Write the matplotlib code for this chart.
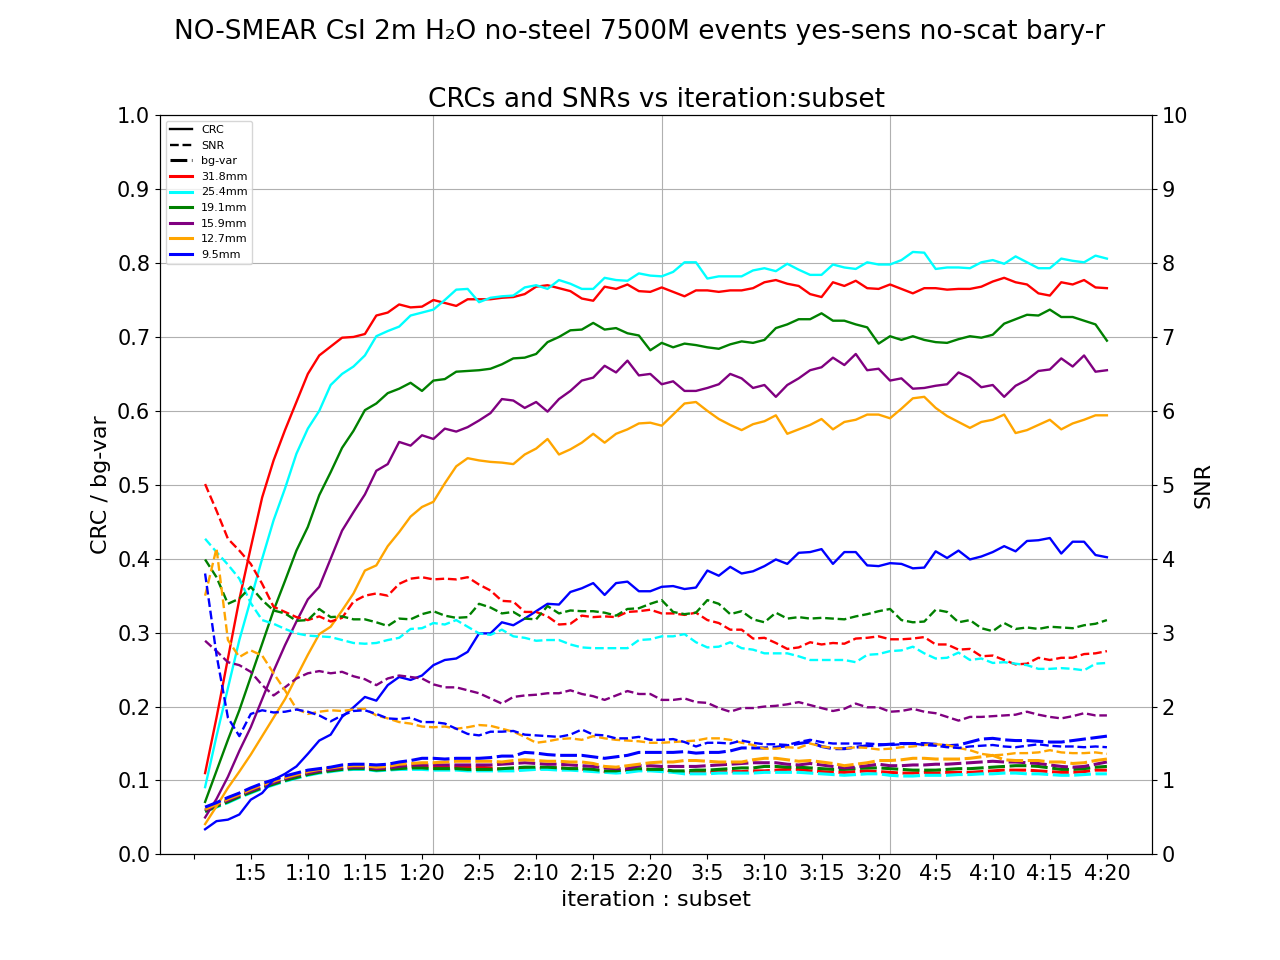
import matplotlib
matplotlib.use('Agg')
import matplotlib.pyplot as plt
from matplotlib.lines import Line2D

#---------------------------------------------------------------------
# data: 4 iterations x 20 subsets = 80 points
#---------------------------------------------------------------------
sizes = ['31.8mm', '25.4mm', '19.1mm', '15.9mm', '12.7mm', '9.5mm']
colours = ['red', 'cyan', 'green', 'purple', 'orange', 'blue']

tick_pos = [0, 5, 10, 15, 20, 25, 30, 35, 40, 45, 50, 55, 60, 65, 70, 75, 80]
tick_labels = ['', '1:5', '1:10', '1:15', '1:20', '2:5', '2:10', '2:15', '2:20',
               '3:5', '3:10', '3:15', '3:20', '4:5', '4:10', '4:15', '4:20']
iter_lines = [21, 41, 61]

crc_318 = [0.110, 0.185, 0.265, 0.345, 0.415, 0.483, 0.533, 0.574, 0.612, 0.650,
           0.675, 0.687, 0.699, 0.700, 0.704, 0.729, 0.733, 0.744, 0.740, 0.741,
           0.750, 0.746, 0.742, 0.751, 0.751, 0.751, 0.753, 0.754, 0.758, 0.768,
           0.770, 0.766, 0.762, 0.752, 0.749, 0.768, 0.765, 0.771, 0.762, 0.761,
           0.767, 0.761, 0.755, 0.763, 0.763, 0.761, 0.763, 0.763, 0.766, 0.774,
           0.777, 0.772, 0.769, 0.758, 0.754, 0.774, 0.769, 0.776, 0.766, 0.765,
           0.771, 0.765, 0.759, 0.766, 0.766, 0.764, 0.765, 0.765, 0.768, 0.775,
           0.780, 0.774, 0.771, 0.759, 0.756, 0.774, 0.771, 0.777, 0.767, 0.766]
crc_254 = [0.091, 0.160, 0.225, 0.290, 0.345, 0.400, 0.452, 0.495, 0.542, 0.576,
           0.600, 0.635, 0.650, 0.660, 0.675, 0.701, 0.708, 0.714, 0.729, 0.733,
           0.737, 0.750, 0.764, 0.765, 0.747, 0.753, 0.755, 0.756, 0.767, 0.770,
           0.765, 0.777, 0.772, 0.765, 0.765, 0.780, 0.777, 0.776, 0.786, 0.783,
           0.782, 0.788, 0.801, 0.801, 0.779, 0.782, 0.782, 0.782, 0.790, 0.793,
           0.789, 0.799, 0.791, 0.784, 0.784, 0.798, 0.794, 0.792, 0.801, 0.798,
           0.798, 0.804, 0.815, 0.814, 0.792, 0.794, 0.794, 0.793, 0.801, 0.804,
           0.799, 0.809, 0.801, 0.793, 0.793, 0.806, 0.803, 0.801, 0.810, 0.806]
crc_191 = [0.071, 0.113, 0.155, 0.195, 0.240, 0.285, 0.330, 0.370, 0.411, 0.443,
           0.486, 0.517, 0.550, 0.573, 0.601, 0.610, 0.624, 0.630, 0.638, 0.627,
           0.641, 0.643, 0.653, 0.654, 0.655, 0.657, 0.663, 0.671, 0.672, 0.677,
           0.693, 0.700, 0.709, 0.710, 0.719, 0.710, 0.712, 0.705, 0.702, 0.682,
           0.692, 0.686, 0.691, 0.689, 0.686, 0.684, 0.690, 0.694, 0.692, 0.696,
           0.712, 0.717, 0.724, 0.724, 0.732, 0.722, 0.722, 0.717, 0.713, 0.691,
           0.701, 0.696, 0.701, 0.696, 0.693, 0.692, 0.697, 0.701, 0.699, 0.703,
           0.718, 0.724, 0.730, 0.729, 0.737, 0.727, 0.727, 0.722, 0.717, 0.695]
crc_159 = [0.050, 0.075, 0.105, 0.140, 0.172, 0.210, 0.248, 0.283, 0.315, 0.345,
           0.362, 0.400, 0.438, 0.463, 0.487, 0.519, 0.528, 0.558, 0.553, 0.567,
           0.562, 0.576, 0.572, 0.578, 0.587, 0.597, 0.616, 0.614, 0.604, 0.612,
           0.599, 0.616, 0.627, 0.641, 0.645, 0.661, 0.652, 0.668, 0.648, 0.650,
           0.636, 0.640, 0.627, 0.627, 0.631, 0.636, 0.650, 0.644, 0.631, 0.635,
           0.619, 0.635, 0.644, 0.655, 0.659, 0.672, 0.662, 0.677, 0.655, 0.657,
           0.641, 0.644, 0.630, 0.631, 0.634, 0.636, 0.652, 0.645, 0.632, 0.635,
           0.619, 0.634, 0.642, 0.654, 0.656, 0.671, 0.660, 0.675, 0.653, 0.655]
crc_127 = [0.041, 0.065, 0.090, 0.112, 0.135, 0.160, 0.185, 0.210, 0.240, 0.270,
           0.298, 0.308, 0.330, 0.353, 0.384, 0.391, 0.417, 0.436, 0.457, 0.470,
           0.477, 0.502, 0.525, 0.536, 0.533, 0.531, 0.530, 0.528, 0.541, 0.549,
           0.562, 0.541, 0.548, 0.557, 0.569, 0.557, 0.569, 0.575, 0.583, 0.584,
           0.580, 0.595, 0.610, 0.612, 0.600, 0.589, 0.581, 0.574, 0.582, 0.586,
           0.594, 0.569, 0.575, 0.581, 0.589, 0.575, 0.585, 0.588, 0.595, 0.595,
           0.590, 0.603, 0.617, 0.619, 0.604, 0.593, 0.585, 0.577, 0.585, 0.588,
           0.595, 0.570, 0.574, 0.581, 0.588, 0.575, 0.583, 0.588, 0.594, 0.594]
crc_95 = [0.034, 0.045, 0.047, 0.054, 0.074, 0.083, 0.101, 0.109, 0.119, 0.136,
          0.154, 0.162, 0.186, 0.199, 0.213, 0.208, 0.229, 0.240, 0.236, 0.242,
          0.256, 0.263, 0.265, 0.274, 0.299, 0.299, 0.314, 0.310, 0.319, 0.329,
          0.339, 0.338, 0.355, 0.360, 0.367, 0.351, 0.367, 0.369, 0.356, 0.356,
          0.362, 0.363, 0.359, 0.361, 0.384, 0.377, 0.389, 0.380, 0.383, 0.390,
          0.399, 0.393, 0.408, 0.409, 0.413, 0.393, 0.409, 0.409, 0.391, 0.390,
          0.394, 0.393, 0.387, 0.388, 0.410, 0.401, 0.411, 0.399, 0.403, 0.409,
          0.417, 0.410, 0.424, 0.425, 0.428, 0.407, 0.423, 0.423, 0.405, 0.402]

snr_318 = [5.01, 4.65, 4.27, 4.11, 3.93, 3.66, 3.35, 3.28, 3.21, 3.17,
           3.22, 3.15, 3.20, 3.42, 3.50, 3.53, 3.50, 3.66, 3.73, 3.75,
           3.72, 3.73, 3.72, 3.75, 3.65, 3.57, 3.43, 3.42, 3.28, 3.28,
           3.22, 3.11, 3.12, 3.23, 3.21, 3.22, 3.21, 3.28, 3.29, 3.31,
           3.26, 3.26, 3.24, 3.27, 3.17, 3.13, 3.04, 3.04, 2.92, 2.93,
           2.86, 2.78, 2.80, 2.87, 2.84, 2.86, 2.85, 2.92, 2.93, 2.95,
           2.91, 2.91, 2.92, 2.94, 2.84, 2.84, 2.77, 2.78, 2.68, 2.69,
           2.63, 2.57, 2.58, 2.66, 2.63, 2.66, 2.66, 2.71, 2.72, 2.75]
snr_254 = [4.27, 4.09, 3.92, 3.73, 3.40, 3.17, 3.12, 3.05, 2.99, 2.96,
           2.95, 2.94, 2.90, 2.86, 2.85, 2.86, 2.90, 2.93, 3.05, 3.06,
           3.13, 3.11, 3.17, 3.08, 2.99, 2.97, 3.04, 2.95, 2.93, 2.89,
           2.90, 2.90, 2.84, 2.80, 2.79, 2.79, 2.79, 2.79, 2.90, 2.91,
           2.95, 2.95, 2.98, 2.87, 2.80, 2.81, 2.87, 2.79, 2.77, 2.72,
           2.72, 2.72, 2.68, 2.63, 2.63, 2.63, 2.63, 2.60, 2.70, 2.71,
           2.75, 2.76, 2.81, 2.72, 2.65, 2.66, 2.73, 2.63, 2.65, 2.59,
           2.60, 2.58, 2.56, 2.51, 2.51, 2.52, 2.51, 2.49, 2.58, 2.59]
snr_191 = [3.99, 3.75, 3.39, 3.46, 3.62, 3.44, 3.30, 3.26, 3.16, 3.17,
           3.32, 3.21, 3.22, 3.18, 3.18, 3.14, 3.09, 3.19, 3.18, 3.25,
           3.29, 3.23, 3.20, 3.21, 3.39, 3.34, 3.26, 3.28, 3.19, 3.18,
           3.36, 3.26, 3.30, 3.29, 3.29, 3.27, 3.23, 3.32, 3.33, 3.39,
           3.44, 3.28, 3.25, 3.27, 3.44, 3.39, 3.25, 3.29, 3.18, 3.14,
           3.27, 3.19, 3.21, 3.19, 3.20, 3.19, 3.18, 3.22, 3.25, 3.29,
           3.32, 3.17, 3.14, 3.15, 3.31, 3.28, 3.14, 3.17, 3.06, 3.02,
           3.13, 3.05, 3.07, 3.05, 3.08, 3.07, 3.06, 3.10, 3.12, 3.17]
snr_159 = [2.89, 2.75, 2.60, 2.56, 2.47, 2.29, 2.15, 2.26, 2.38, 2.45,
           2.48, 2.45, 2.47, 2.41, 2.37, 2.29, 2.38, 2.42, 2.40, 2.38,
           2.30, 2.26, 2.26, 2.22, 2.18, 2.11, 2.04, 2.13, 2.15, 2.16,
           2.18, 2.18, 2.22, 2.17, 2.14, 2.09, 2.15, 2.21, 2.17, 2.17,
           2.09, 2.09, 2.11, 2.06, 2.05, 1.98, 1.93, 1.98, 1.98, 2.00,
           2.01, 2.03, 2.06, 2.02, 1.98, 1.94, 1.97, 2.04, 1.99, 1.99,
           1.93, 1.94, 1.97, 1.93, 1.91, 1.86, 1.81, 1.86, 1.86, 1.87,
           1.88, 1.89, 1.93, 1.89, 1.86, 1.84, 1.87, 1.91, 1.88, 1.88]
snr_127 = [3.50, 4.14, 2.90, 2.67, 2.76, 2.69, 2.45, 2.22, 1.97, 1.90,
           1.93, 1.95, 1.94, 1.96, 1.97, 1.88, 1.84, 1.79, 1.77, 1.73,
           1.72, 1.73, 1.70, 1.72, 1.75, 1.74, 1.70, 1.66, 1.59, 1.51,
           1.53, 1.56, 1.57, 1.55, 1.60, 1.57, 1.55, 1.54, 1.53, 1.51,
           1.51, 1.52, 1.53, 1.54, 1.57, 1.57, 1.55, 1.51, 1.48, 1.43,
           1.43, 1.45, 1.44, 1.50, 1.46, 1.44, 1.43, 1.45, 1.44, 1.42,
           1.43, 1.45, 1.46, 1.48, 1.49, 1.48, 1.44, 1.41, 1.36, 1.34,
           1.35, 1.37, 1.37, 1.38, 1.41, 1.38, 1.37, 1.37, 1.38, 1.36]
snr_95 = [3.80, 2.70, 1.85, 1.60, 1.90, 1.95, 1.92, 1.93, 1.96, 1.93,
          1.88, 1.80, 1.88, 1.94, 1.95, 1.90, 1.84, 1.83, 1.85, 1.79,
          1.79, 1.77, 1.70, 1.63, 1.61, 1.66, 1.66, 1.67, 1.62, 1.61,
          1.60, 1.59, 1.62, 1.69, 1.62, 1.61, 1.57, 1.57, 1.59, 1.55,
          1.55, 1.56, 1.52, 1.46, 1.51, 1.51, 1.50, 1.54, 1.51, 1.49,
          1.49, 1.48, 1.52, 1.55, 1.52, 1.50, 1.50, 1.50, 1.50, 1.49,
          1.48, 1.49, 1.50, 1.48, 1.47, 1.45, 1.44, 1.46, 1.47, 1.48,
          1.46, 1.45, 1.47, 1.49, 1.47, 1.46, 1.46, 1.45, 1.46, 1.45]

bg_318 = [0.059, 0.066, 0.072, 0.079, 0.085, 0.091, 0.096, 0.101, 0.106, 0.109,
          0.112, 0.114, 0.116, 0.117, 0.117, 0.115, 0.116, 0.117, 0.119, 0.119,
          0.118, 0.118, 0.118, 0.118, 0.118, 0.117, 0.115, 0.115, 0.116, 0.116,
          0.117, 0.117, 0.116, 0.115, 0.114, 0.112, 0.112, 0.114, 0.115, 0.115,
          0.115, 0.112, 0.111, 0.111, 0.111, 0.112, 0.112, 0.112, 0.113, 0.113,
          0.114, 0.115, 0.115, 0.113, 0.112, 0.111, 0.111, 0.112, 0.113, 0.112,
          0.111, 0.110, 0.110, 0.111, 0.110, 0.111, 0.111, 0.111, 0.112, 0.113,
          0.114, 0.114, 0.114, 0.113, 0.112, 0.111, 0.111, 0.112, 0.114, 0.114]
bg_254 = [0.058, 0.064, 0.070, 0.077, 0.083, 0.089, 0.094, 0.099, 0.103, 0.107,
          0.110, 0.112, 0.114, 0.115, 0.115, 0.113, 0.114, 0.115, 0.115, 0.115,
          0.114, 0.114, 0.114, 0.113, 0.113, 0.113, 0.113, 0.113, 0.114, 0.115,
          0.115, 0.114, 0.114, 0.113, 0.112, 0.111, 0.110, 0.111, 0.113, 0.113,
          0.112, 0.111, 0.109, 0.109, 0.109, 0.110, 0.110, 0.110, 0.110, 0.111,
          0.111, 0.111, 0.111, 0.110, 0.109, 0.108, 0.107, 0.108, 0.109, 0.109,
          0.107, 0.106, 0.106, 0.107, 0.107, 0.107, 0.108, 0.108, 0.109, 0.109,
          0.110, 0.110, 0.109, 0.109, 0.108, 0.107, 0.107, 0.108, 0.109, 0.109]
bg_191 = [0.058, 0.065, 0.071, 0.078, 0.084, 0.090, 0.095, 0.100, 0.104, 0.108,
          0.111, 0.113, 0.115, 0.116, 0.116, 0.114, 0.115, 0.116, 0.117, 0.117,
          0.116, 0.116, 0.116, 0.115, 0.115, 0.115, 0.116, 0.117, 0.118, 0.118,
          0.118, 0.117, 0.116, 0.116, 0.115, 0.113, 0.113, 0.115, 0.116, 0.115,
          0.115, 0.113, 0.113, 0.114, 0.114, 0.115, 0.116, 0.117, 0.117, 0.119,
          0.119, 0.118, 0.118, 0.117, 0.116, 0.115, 0.115, 0.116, 0.117, 0.117,
          0.116, 0.115, 0.114, 0.114, 0.114, 0.115, 0.116, 0.116, 0.117, 0.118,
          0.119, 0.120, 0.120, 0.119, 0.117, 0.115, 0.115, 0.116, 0.118, 0.119]
bg_159 = [0.060, 0.067, 0.073, 0.080, 0.086, 0.092, 0.097, 0.102, 0.107, 0.110,
          0.113, 0.115, 0.117, 0.118, 0.118, 0.116, 0.117, 0.119, 0.121, 0.121,
          0.121, 0.121, 0.121, 0.121, 0.121, 0.121, 0.122, 0.123, 0.124, 0.123,
          0.122, 0.122, 0.121, 0.120, 0.119, 0.117, 0.116, 0.116, 0.120, 0.120,
          0.119, 0.119, 0.119, 0.119, 0.120, 0.121, 0.122, 0.123, 0.124, 0.124,
          0.124, 0.122, 0.121, 0.123, 0.121, 0.119, 0.117, 0.118, 0.120, 0.122,
          0.120, 0.120, 0.121, 0.121, 0.122, 0.122, 0.123, 0.124, 0.125, 0.126,
          0.125, 0.125, 0.124, 0.123, 0.121, 0.119, 0.118, 0.119, 0.122, 0.125]
bg_127 = [0.061, 0.068, 0.075, 0.081, 0.088, 0.094, 0.099, 0.104, 0.108, 0.112,
          0.115, 0.117, 0.119, 0.120, 0.120, 0.118, 0.119, 0.122, 0.123, 0.124,
          0.124, 0.125, 0.126, 0.126, 0.126, 0.126, 0.125, 0.127, 0.128, 0.127,
          0.126, 0.126, 0.125, 0.125, 0.123, 0.119, 0.118, 0.120, 0.122, 0.124,
          0.125, 0.125, 0.127, 0.127, 0.126, 0.125, 0.125, 0.125, 0.128, 0.130,
          0.130, 0.128, 0.126, 0.127, 0.125, 0.123, 0.120, 0.122, 0.124, 0.127,
          0.127, 0.128, 0.130, 0.130, 0.129, 0.129, 0.129, 0.130, 0.132, 0.134,
          0.128, 0.127, 0.127, 0.127, 0.125, 0.125, 0.123, 0.124, 0.127, 0.129]
bg_95 = [0.064, 0.070, 0.077, 0.083, 0.090, 0.096, 0.101, 0.106, 0.110, 0.114,
         0.116, 0.118, 0.121, 0.122, 0.122, 0.121, 0.122, 0.125, 0.127, 0.130,
         0.130, 0.129, 0.130, 0.130, 0.130, 0.131, 0.133, 0.133, 0.138, 0.137,
         0.135, 0.134, 0.134, 0.134, 0.132, 0.130, 0.132, 0.134, 0.138, 0.138,
         0.138, 0.138, 0.139, 0.137, 0.138, 0.138, 0.140, 0.144, 0.144, 0.144,
         0.145, 0.147, 0.150, 0.152, 0.146, 0.143, 0.143, 0.145, 0.147, 0.148,
         0.149, 0.150, 0.150, 0.150, 0.149, 0.147, 0.148, 0.152, 0.156, 0.157,
         0.155, 0.154, 0.154, 0.153, 0.152, 0.152, 0.154, 0.156, 0.158, 0.160]

crc = [crc_318, crc_254, crc_191, crc_159, crc_127, crc_95]
snr = [snr_318, snr_254, snr_191, snr_159, snr_127, snr_95]
bgvar = [bg_318, bg_254, bg_191, bg_159, bg_127, bg_95]

subset_no = list(range(1, len(crc_318) + 1))

#---------------------------------------------------------------------
# plot
#---------------------------------------------------------------------
fig, ax1 = plt.subplots(figsize=(12.8, 9.6), dpi=100)
ax2 = ax1.twinx()

bg_dash = (0, (5.5, 1.5))
for c, y_crc, y_snr, y_bg in zip(colours, crc, snr, bgvar):
    ax1.plot(subset_no, y_crc, color=c, lw=1.7, ls='-')
    ax1.plot(subset_no, y_bg, color=c, lw=2.2, ls=bg_dash)
    ax2.plot(subset_no, y_snr, color=c, lw=1.7, ls='--')

for xv in iter_lines:
    ax1.axvline(xv, color='#b0b0b0', lw=0.8, zorder=0)
ax1.grid(axis='y', color='#b0b0b0', lw=0.8)

ax1.set_ylim(0, 1.0)
ax2.set_ylim(0, 10)
ax1.set_yticks([i / 10 for i in range(11)])
ax2.set_yticks(range(11))
ax1.set_xticks(tick_pos)
ax1.set_xticklabels(tick_labels)
ax1.tick_params(labelsize=15)
ax2.tick_params(labelsize=15)

ax1.set_xlabel('iteration : subset', fontsize=16)
ax1.set_ylabel('CRC / bg-var', fontsize=16)
ax2.set_ylabel('SNR', fontsize=16)
ax1.set_title('CRCs and SNRs vs iteration:subset', fontsize=19)
fig.suptitle('NO-SMEAR CsI 2m H\u2082O no-steel 7500M events yes-sens no-scat bary-r',
             fontsize=19)

handles = [Line2D([], [], color='k', ls='-', lw=1.7),
           Line2D([], [], color='k', ls='--', lw=1.7),
           Line2D([], [], color='k', ls=bg_dash, lw=2.2)]
names = ['CRC', 'SNR', 'bg-var']
for c, s in zip(colours, sizes):
    handles.append(Line2D([], [], color=c, ls='-', lw=2.2))
    names.append(s)
ax1.legend(handles, names, loc='upper left', fontsize=8)

fig.savefig('out.png', dpi=100)
